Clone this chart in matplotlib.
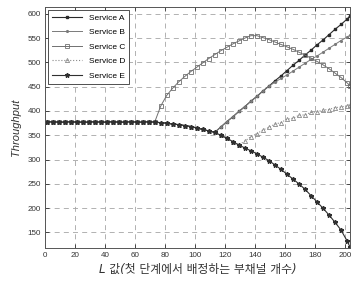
import matplotlib.pyplot as plt

# L values (x axis)
L = [1, 5, 9, 13, 17, 21, 25, 29, 33, 37, 41, 45, 49, 53, 57, 61, 65, 69, 73,
     77, 81, 85, 89, 93, 97, 101, 105, 109, 113,
     117, 121, 125, 129, 133, 137, 141, 145, 149, 153, 157,
     161, 165, 169, 173, 177, 181, 185, 189, 193, 197, 201, 203]

# common part, every service is equal for small L
flat = [377, 378, 377, 377, 378, 377, 377, 377, 378, 377, 377, 378, 377, 377,
        378, 377, 377, 378, 377]
# common decreasing part
down = [376, 375, 373, 372, 370, 368, 365, 362, 359, 356]

serv_e = flat + down + [350, 344, 337, 330, 324, 318, 312, 305, 298, 289, 280,
                        270, 260, 250, 239, 226, 213, 200, 186, 171, 155, 133, 120]
serv_a = flat + down + [367, 378, 388, 399, 409, 420, 430, 441, 451, 462, 472,
                        483, 494, 504, 515, 525, 536, 546, 557, 568, 578, 589, 596]
serv_b = flat + down + [367, 378, 388, 399, 409, 420, 430, 441, 451, 459, 467,
                        474, 482, 490, 498, 506, 513, 521, 529, 537, 545, 552, 556]
serv_d = flat + down + [350, 344, 337, 330, 338, 347, 353, 361, 366, 373, 376,
                        383, 385, 391, 392, 397, 398, 402, 403, 407, 408, 411, 413]
serv_c = flat + [410, 432, 447, 460, 471, 481, 490, 499, 508, 516,
                 524, 531, 538, 544, 550, 555, 555, 551, 547, 542, 537,
                 532, 527, 521, 515, 509, 502, 495, 487, 478, 469, 458, 452]

xticks = list(range(0, 201, 20))
yticks = list(range(150, 601, 50))

plt.rcParams['font.family'] = ['Liberation Sans', 'DejaVu Sans']

fig = plt.figure(figsize=(3.52, 2.85), dpi=100)
ax = fig.add_axes([45/352, 37/285, 305/352, 241/285])

ax.plot(L, serv_a, '-s', color='#2a2a2a', lw=0.8, ms=2, mfc='#2a2a2a', mec='#2a2a2a', label='Service A')
ax.plot(L, serv_b, color='#7a7a7a', ls='-', marker='.', lw=0.7, ms=2.5, label='Service B')
ax.plot(L, serv_c, '-s', color='#707070', lw=0.7, ms=3.5, mfc='none', mew=0.6, label='Service C')
ax.plot(L, serv_d, ':^', color='#8a8a8a', lw=0.8, ms=3, mfc='none', mew=0.6, label='Service D')
ax.plot(L, serv_e, '-*', color='#303030', lw=0.8, ms=3.3, label='Service E')

ax.set_xlim(0, 203)
ax.set_ylim(118, 614)
ax.set_xticks(xticks)
ax.set_yticks(yticks)
ax.tick_params(direction='in', length=3, width=0.6, labelsize=5.8,
               colors='#333333', top=True, right=True, pad=3)
ax.grid(True, linestyle=(0, (6, 5)), color='#a5a5a5', lw=0.6)
for s in ax.spines.values():
    s.set_color('#555555')
    s.set_linewidth(0.7)

ax.set_ylabel('Throughput', fontsize=8, style='italic', color='#333333', labelpad=5)
ax.set_xlabel('L 값(첫 단계에서 배정하는 부채널 개수)', fontsize=8.5, style='italic',
              color='#333333', family=['DejaVu Sans', 'Noto Sans CJK KR'], labelpad=3)

leg = ax.legend(loc='upper left', fontsize=6, fancybox=False, framealpha=1,
                edgecolor='#333333', handlelength=3.6, borderaxespad=0.4,
                labelspacing=0.8, borderpad=0.45)
leg.get_frame().set_linewidth(0.6)

plt.savefig('out.png', dpi=100)
